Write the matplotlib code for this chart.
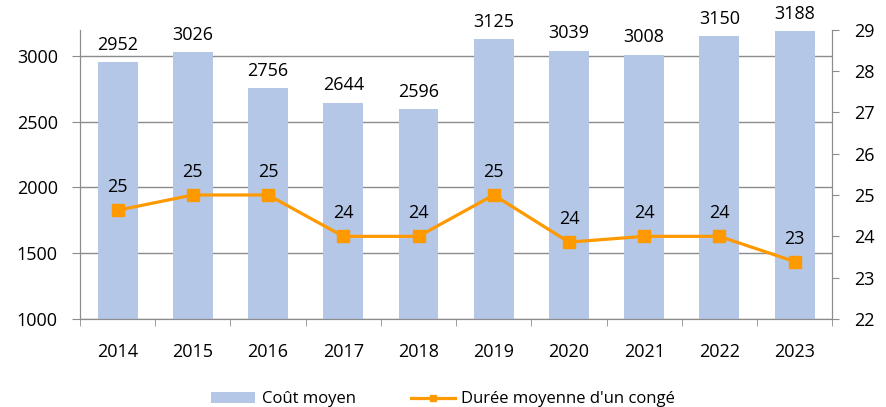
import matplotlib.pyplot as plt
import numpy as np
from matplotlib.ticker import FixedLocator

plt.rcParams['font.family'] = ['Open Sans', 'DejaVu Sans']

# Data
years = ['2014', '2015', '2016', '2017', '2018', '2019', '2020', '2021', '2022', '2023']
cout_moyen = [2952, 3026, 2756, 2644, 2596, 3125, 3039, 3008, 3150, 3188]
duree_moyenne = [24.63, 25.0, 25.0, 24.0, 24.0, 25.0, 23.86, 24.0, 24.0, 23.39]

BAR_COLOR = '#b4c7e7'
LINE_COLOR = '#ff9900'
GRID_COLOR = '#8c8c8c'
FS = 13

fig = plt.figure(figsize=(8.86, 4.07), dpi=100)
ax = fig.add_axes([0.0903, 0.216, 0.849, 0.7115])
ax2 = ax.twinx()

x = np.arange(len(years))
bars = ax.bar(x, cout_moyen, width=0.53, color=BAR_COLOR, zorder=2, label='Coût moyen')
ax.set_xlim(-0.5, len(years) - 0.5)
ax.set_ylim(1000, 3200)
ax.set_yticks([1000, 1500, 2000, 2500, 3000])
ax.yaxis.grid(True, color=GRID_COLOR, linewidth=1, zorder=0)
ax.set_axisbelow(True)

# bar labels
for xi, v in zip(x, cout_moyen):
    ax.annotate(str(v), (xi, v), textcoords='offset points', xytext=(0, 6),
                ha='center', va='bottom', fontsize=FS)

# category ticks between groups, labels at centers
ax.set_xticks(x)
ax.set_xticklabels(years, fontsize=FS)
ax.tick_params(axis='x', which='major', length=0, pad=17)
ax.xaxis.set_minor_locator(FixedLocator(np.arange(-0.5, len(years), 1.0)))
ax.tick_params(axis='x', which='minor', length=5, color=GRID_COLOR, direction='out')
ax.tick_params(axis='y', labelsize=FS, length=6, color=GRID_COLOR, direction='out', pad=10)

line, = ax2.plot(x, duree_moyenne, color=LINE_COLOR, linewidth=2.3, marker='s',
                 markersize=8, zorder=3, label="Durée moyenne d'un congé")
ax2.set_ylim(22, 29)
ax2.set_yticks(range(22, 30))
ax2.tick_params(axis='y', labelsize=FS, length=5, color=GRID_COLOR, direction='out', pad=11)

for xi, v in zip(x, duree_moyenne):
    ax2.annotate(f'{v:.0f}', (xi, v), textcoords='offset points', xytext=(0, 10),
                 ha='center', va='bottom', fontsize=FS)

for a in (ax, ax2):
    a.spines['top'].set_visible(False)
    for s in ('left', 'right', 'bottom'):
        a.spines[s].set_color(GRID_COLOR)
ax.set_zorder(ax2.get_zorder() - 1)
ax.patch.set_visible(False)

fig.legend([bars, line], ['Coût moyen', "Durée moyenne d'un congé"],
           loc='lower center', bbox_to_anchor=(0.5, -0.038), ncol=2, frameon=False,
           fontsize=12, handlelength=2.65, handletextpad=0.4, columnspacing=3.3,
           markerscale=0.6)

fig.savefig('out.png', dpi=100)
